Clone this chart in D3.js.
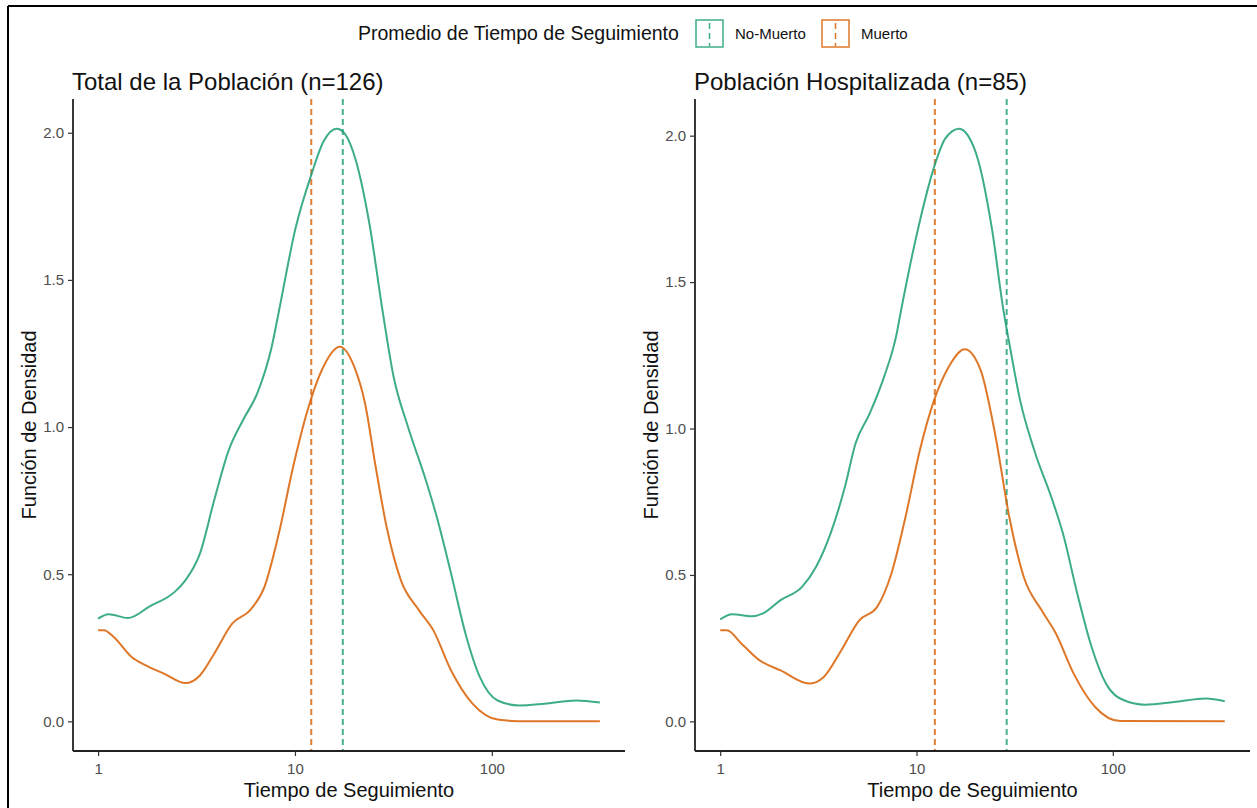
<!DOCTYPE html>
<html>
  <head>
    <meta charset="utf-8">
    <style>
      body { margin: 0; background: #fff; }
      text { font-family: "Liberation Sans", Arial, sans-serif; }
    </style>
  </head>
  <body>
    <svg id="chart"></svg>
  </body>
</html>

<script src="https://d3js.org/d3.v7.min.js"></script>

<script>
  const WIDTH = 1257
  const HEIGHT = 808

  const grupos = ['No-Muerto', 'Muerto']
  const colores = ['#1B9E77', '#D95F02']
  const xTicks = [1, 10, 100]
  const yTicks = [0, 0.5, 1.0, 1.5, 2.0]

  // Total de la Poblacion (n=126)
  const tiempoTotalVivo = [1, 1.13, 1.42, 1.83, 2.45, 2.78, 3.29, 3.89, 4.6, 5.45, 6.44, 7.62, 8.28, 10.07, 12.1, 14.0, 16.3, 17.9, 20.4, 23.9, 27.9, 31.7, 37.5, 46.2, 52.5, 62.1, 73.5, 86.9, 107, 138, 185, 269, 354]
  const densTotalVivo = [0.349, 0.364, 0.351, 0.391, 0.44, 0.48, 0.57, 0.752, 0.92, 1.024, 1.115, 1.273, 1.392, 1.676, 1.857, 1.972, 2.014, 1.997, 1.905, 1.69, 1.392, 1.171, 1.001, 0.82, 0.695, 0.502, 0.298, 0.151, 0.071, 0.054, 0.06, 0.071, 0.064]
  const tiempoTotalMuerto = [1, 1.07, 1.2, 1.48, 1.75, 2.16, 2.78, 3.29, 3.89, 4.8, 5.92, 7.0, 8.28, 9.79, 11.6, 13.7, 16.9, 20.0, 22.7, 25.7, 29.2, 34.5, 42.6, 50.4, 62.1, 79.8, 107, 150, 354]
  const densTotalMuerto = [0.31, 0.31, 0.287, 0.219, 0.19, 0.162, 0.13, 0.156, 0.23, 0.332, 0.378, 0.457, 0.638, 0.865, 1.058, 1.194, 1.273, 1.205, 1.08, 0.865, 0.661, 0.48, 0.378, 0.31, 0.173, 0.06, 0.006, 0, 0]
  const mediasTotal = [17.5, 12.1]

  // Poblacion Hospitalizada (n=85)
  const tiempoHospVivo = [1, 1.15, 1.45, 1.64, 2.03, 2.61, 3.08, 3.65, 4.32, 4.89, 5.78, 6.84, 7.93, 8.26, 10.2, 12.4, 14.0, 16.5, 18.3, 20.7, 24.2, 27.8, 29.7, 33.7, 39.8, 49.2, 55.7, 65.9, 78.0, 92.3, 114, 146, 205, 299, 372]
  const densHospVivo = [0.348, 0.366, 0.359, 0.368, 0.414, 0.459, 0.528, 0.642, 0.801, 0.949, 1.052, 1.177, 1.325, 1.388, 1.684, 1.901, 1.99, 2.024, 2.0, 1.912, 1.684, 1.399, 1.291, 1.097, 0.926, 0.756, 0.642, 0.437, 0.254, 0.129, 0.072, 0.057, 0.066, 0.078, 0.069]
  const tiempoHospMuerto = [1, 1.08, 1.28, 1.58, 2.03, 2.84, 3.36, 4.14, 5.11, 6.3, 7.45, 8.79, 10.4, 12.3, 14.6, 17.6, 21.2, 25.1, 29.7, 35.2, 43.4, 51.3, 63.2, 81.3, 109, 372]
  const densHospMuerto = [0.311, 0.311, 0.266, 0.209, 0.174, 0.129, 0.151, 0.243, 0.345, 0.391, 0.505, 0.698, 0.926, 1.097, 1.211, 1.271, 1.2, 0.984, 0.698, 0.493, 0.379, 0.3, 0.163, 0.049, 0.001, 0]
  const mediasHosp = [28.8, 12.4]

  const paneles = [
    { titulo: 'Total de la Población (n=126)', left: 73, right: 625,
      series: [[tiempoTotalVivo, densTotalVivo], [tiempoTotalMuerto, densTotalMuerto]],
      medias: mediasTotal },
    { titulo: 'Población Hospitalizada (n=85)', left: 695, right: 1250,
      series: [[tiempoHospVivo, densHospVivo], [tiempoHospMuerto, densHospMuerto]],
      medias: mediasHosp }
  ]

  const TOP = 99
  const BOTTOM = 751

  let svg = d3.select('#chart')
    .attr('width', WIDTH)
    .attr('height', HEIGHT)

  // outer frame (only top and left visible)
  svg.append('line').attr('x1', 8).attr('x2', WIDTH).attr('y1', 6).attr('y2', 6)
    .attr('stroke', '#000').attr('stroke-width', 2)
  svg.append('line').attr('x1', 8).attr('x2', 8).attr('y1', 6).attr('y2', HEIGHT)
    .attr('stroke', '#000').attr('stroke-width', 2)

  paneles.forEach(function(p) { drawPanel(p) })
  drawLegend()

  function drawPanel(p) {
    // expand domain 5% like ggplot
    let allX = p.series[0][0].concat(p.series[1][0])
    let allY = p.series[0][1].concat(p.series[1][1])
    let lx0 = Math.log10(d3.min(allX)), lx1 = Math.log10(d3.max(allX))
    let ex = (lx1 - lx0) * 0.05
    let x = d3.scaleLog()
      .domain([Math.pow(10, lx0 - ex), Math.pow(10, lx1 + ex)])
      .range([p.left, p.right])
    let ymax = d3.max(allY)
    let y = d3.scaleLinear()
      .domain([-ymax * 0.05, ymax * 1.05])
      .range([BOTTOM, TOP])

    let g = svg.append('g')

    // mean lines
    p.medias.forEach(function(m, i) {
      g.append('line')
        .attr('x1', x(m)).attr('x2', x(m))
        .attr('y1', TOP).attr('y2', BOTTOM)
        .attr('stroke', colores[i])
        .attr('stroke-opacity', 0.8)
        .attr('stroke-width', 2)
        .attr('stroke-dasharray', '6,4')
    })

    // density curves
    let line = d3.line()
      .x(function(d) { return x(d[0]) })
      .y(function(d) { return y(d[1]) })
      .curve(d3.curveMonotoneX)
    p.series.forEach(function(s, i) {
      let pts = s[0].map(function(t, k) { return [t, s[1][k]] })
      g.append('path')
        .datum(pts)
        .attr('d', line)
        .attr('fill', 'none')
        .attr('stroke', colores[i])
        .attr('stroke-opacity', 0.85)
        .attr('stroke-width', 2)
    })

    // axes
    let xAxis = g.append('g')
      .attr('transform', 'translate(0,' + BOTTOM + ')')
      .call(d3.axisBottom(x).tickValues(xTicks).tickFormat(d3.format('d')).tickSizeInner(5).tickSizeOuter(0).tickPadding(7))
    let yAxis = g.append('g')
      .attr('transform', 'translate(' + p.left + ',0)')
      .call(d3.axisLeft(y).tickValues(yTicks).tickFormat(d3.format('.1f')).tickSizeInner(5).tickSizeOuter(0).tickPadding(4))
    ;[xAxis, yAxis].forEach(function(a) {
      a.select('.domain').attr('stroke', '#222').attr('stroke-width', 1.8)
      a.selectAll('.tick line').attr('stroke', '#333').attr('stroke-width', 1.2)
      a.selectAll('.tick text').attr('fill', '#4D4D4D').style('font-size', '15px')
        .style('font-family', '"Liberation Sans", Arial, sans-serif')
    })
    xAxis.select('.domain').attr('d', 'M' + p.left + ',0H' + p.right)
    yAxis.select('.domain').attr('d', 'M0,' + TOP + 'V' + BOTTOM)

    // titles
    g.append('text')
      .attr('x', p.left - 1)
      .attr('y', 90)
      .style('font-size', '24px')
      .attr('fill', '#111')
      .text(p.titulo)
    g.append('text')
      .attr('x', (p.left + p.right) / 2)
      .attr('y', 797)
      .attr('text-anchor', 'middle')
      .style('font-size', '20px')
      .attr('fill', '#111')
      .text('Tiempo de Seguimiento')
    g.append('text')
      .attr('transform', 'translate(' + (p.left - 37) + ',' + ((TOP + BOTTOM) / 2) + ') rotate(-90)')
      .attr('text-anchor', 'middle')
      .style('font-size', '20px')
      .attr('fill', '#111')
      .text('Función de Densidad')
  }

  function drawLegend() {
    let lg = svg.append('g')
    lg.append('text')
      .attr('x', 358).attr('y', 40)
      .style('font-size', '19.5px')
      .attr('fill', '#111')
      .text('Promedio de Tiempo de Seguimiento')
    let keyX = [696, 822]
    grupos.forEach(function(name, i) {
      lg.append('rect')
        .attr('x', keyX[i]).attr('y', 20)
        .attr('width', 27).attr('height', 27)
        .attr('fill', 'none')
        .attr('stroke', colores[i])
        .attr('stroke-opacity', 0.85)
        .attr('stroke-width', 1.5)
      lg.append('line')
        .attr('x1', keyX[i] + 13.5).attr('x2', keyX[i] + 13.5)
        .attr('y1', 21).attr('y2', 46)
        .attr('stroke', colores[i])
        .attr('stroke-opacity', 0.85)
        .attr('stroke-width', 1.5)
        .attr('stroke-dasharray', '6,4')
        .attr('stroke-dashoffset', -2)
      lg.append('text')
        .attr('x', keyX[i] + 39).attr('y', 39)
        .style('font-size', '15px')
        .attr('fill', '#111')
        .text(name)
    })
  }
</script>
